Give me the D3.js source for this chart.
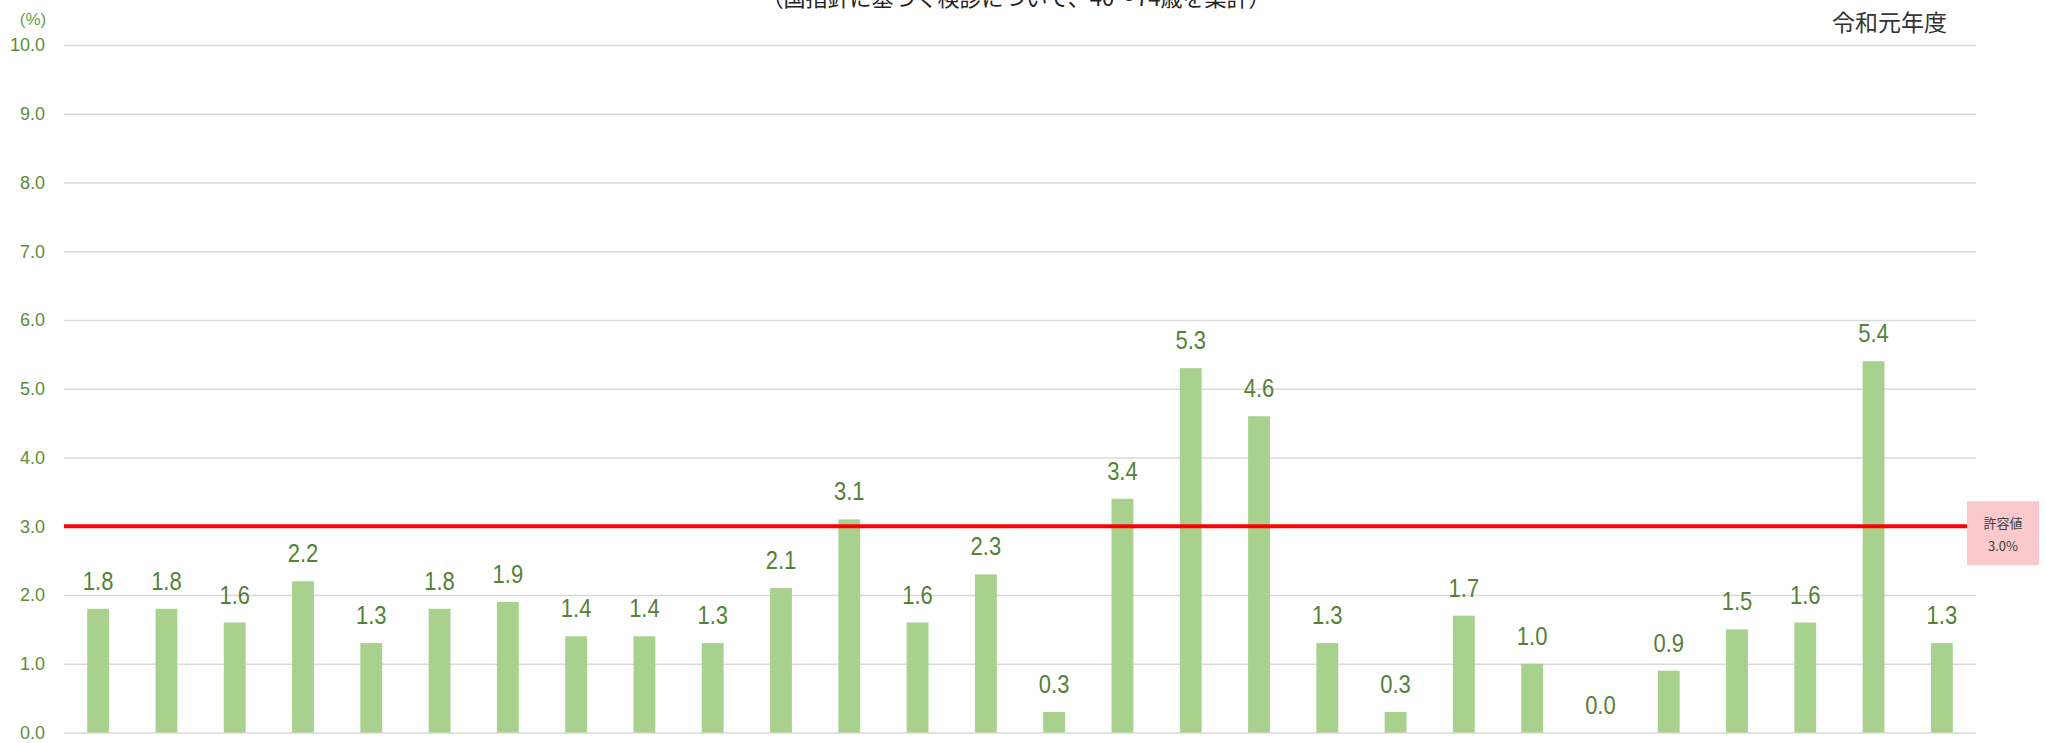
<!DOCTYPE html>
<html><head><meta charset="utf-8">
<script src="https://cdn.jsdelivr.net/npm/d3@7"></script>
<style>
html,body{margin:0;padding:0;background:#fff;}
svg{display:block;}
</style></head>
<body>
<svg id="chart" width="2046" height="743"></svg>
<script>
// ---- data ----
const categories = d3.range(1, 29).map(String);
const values = [1.8,1.8,1.6,2.2,1.3,1.8,1.9,1.4,1.4,1.3,2.1,3.1,1.6,2.3,0.3,3.4,5.3,4.6,1.3,0.3,1.7,1.0,0.0,0.9,1.5,1.6,5.4,1.3];
const yTicks = [0,1,2,3,4,5,6,7,8,9,10];
const thresholdValue = 3.0;
const thresholdLabel = ["許容値", "3.0%"];
const titleText = "（国指針に基づく検診について、40～74歳を集計）";
const yearText = "令和元年度";
const unitText = "(%)";

// ---- layout ----
const svg = d3.select("#chart");
const plotLeft = 64, plotRight = 1976, plotTop = 45, plotBottom = 732.5;

const x = d3.scaleBand().domain(categories).range([plotLeft, plotRight]).paddingInner(0.68).paddingOuter(0.34);
const y = d3.scaleLinear().domain([0, 10]).range([plotBottom, plotTop]);

// gridlines
const yAxis = d3.axisLeft(y).tickValues(yTicks).tickSize(-(plotRight - plotLeft)).tickFormat(d3.format(".1f")).tickPadding(19);
const gAxis = svg.append("g").attr("transform", `translate(${plotLeft},0)`).call(yAxis);
gAxis.select(".domain").remove();
gAxis.selectAll(".tick line").attr("stroke", "#D9D9D9").attr("stroke-width", 1.4);
gAxis.selectAll(".tick text")
  .attr("fill", "#5A8F37")
  .style("font-family", "'Liberation Sans', Arial, sans-serif")
  .style("font-size", "18px");

// unit
svg.append("text").attr("x", 33).attr("y", 25).attr("text-anchor", "middle")
  .attr("fill", "#6A9D45").style("font-family", "'Liberation Sans', Arial, sans-serif").style("font-size", "17px")
  .text(unitText);

// title (cut at top, as in the reference)
svg.append("text").attr("x", 1016).attr("y", 6).attr("text-anchor", "middle")
  .attr("fill", "#222").style("font-family", "'Noto Sans CJK JP', sans-serif").style("font-size", "22px")
  .text(titleText);

// year
svg.append("text").attr("x", 1947).attr("y", 31).attr("text-anchor", "end")
  .attr("fill", "#333").style("font-family", "'Noto Sans CJK JP', sans-serif").style("font-size", "23px")
  .text(yearText);

// bars
svg.append("g").selectAll("rect").data(values).join("rect")
  .attr("x", (d, i) => x(categories[i]))
  .attr("width", x.bandwidth())
  .attr("y", d => y(d))
  .attr("height", d => y(0) - y(d))
  .attr("fill", "#A9D18E");

// labels (narrowed Liberation Sans)
svg.append("g").selectAll("text").data(values).join("text")
  .attr("transform", (d, i) => `translate(${x(categories[i]) + x.bandwidth() / 2},${y(d) - 19}) scale(0.88,1)`)
  .attr("text-anchor", "middle")
  .attr("fill", "#548235")
  .style("font-family", "'Liberation Sans', Arial, sans-serif")
  .style("font-size", "25px")
  .text(d => d.toFixed(1));

// threshold line
svg.append("line").attr("x1", plotLeft).attr("x2", 1967)
  .attr("y1", y(thresholdValue)).attr("y2", y(thresholdValue))
  .attr("stroke", "#FF0000").attr("stroke-width", 4);

// threshold box
svg.append("rect").attr("x", 1967).attr("y", y(thresholdValue) - 25).attr("width", 72).attr("height", 64)
  .attr("fill", "#F9C9CB");
svg.append("g").selectAll("text").data(thresholdLabel).join("text")
  .attr("x", 2003).attr("y", (d, i) => y(thresholdValue) + 2 + i * 23)
  .attr("text-anchor", "middle").attr("fill", "#404040")
  .style("font-family", "'Noto Sans CJK JP', sans-serif").style("font-size", "13px")
  .text(d => d);
</script>
</body></html>
